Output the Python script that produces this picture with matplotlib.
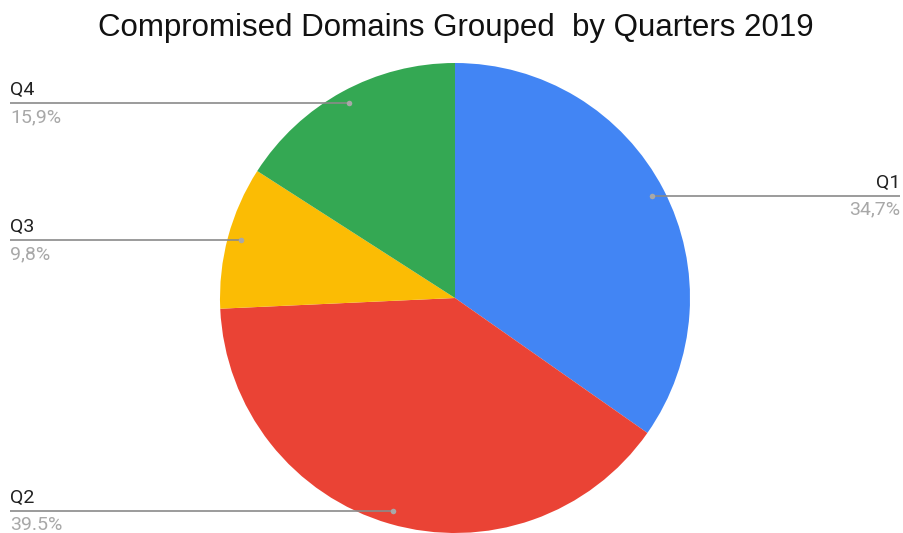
import numpy as np
import matplotlib
matplotlib.use("Agg")
import matplotlib.pyplot as plt

quarters = ["Q1", "Q2", "Q3", "Q4"]
shares = [34.7, 39.5, 9.8, 15.9]
share_labels = ["34,7%", "39.5%", "9,8%", "15,9%"]
colors = ["#4285F4", "#EA4335", "#FBBC04", "#34A853"]

W, H = 904, 533
fig = plt.figure(figsize=(W / 100, H / 100), dpi=100)
ax = fig.add_axes([0, 0, 1, 1])

cx, cy, R = 455, H - 298, 235
wedges, _ = ax.pie(shares, colors=colors, startangle=90, counterclock=False,
                   center=(cx, cy), radius=R,
                   wedgeprops=dict(linewidth=0))
ax.set_xlim(0, W)
ax.set_ylim(0, H)
ax.set_aspect("equal")
ax.axis("off")

fig.text(456 / W, 1 - 28 / H, "Compromised Domains Grouped  by Quarters 2019",
         ha="center", va="center", fontsize=22.5, family="Liberation Sans",
         color="#111111")

for w, name, lab in zip(wedges, quarters, share_labels):
    mid = np.deg2rad((w.theta1 + w.theta2) / 2)
    dx, dy = cx + 0.945 * R * np.cos(mid), cy + 0.945 * R * np.sin(mid)
    if dx > cx:
        x0, x1, xt, ha = dx, 900, 900, "right"
    else:
        x0, x1, xt, ha = 10, dx, 10, "left"
    ax.plot([x0, x1], [dy, dy], color="#8a8a8a", lw=1.2, solid_capstyle="butt",
            zorder=5)
    ax.plot([dx], [dy], "o", ms=4, color="#a8a8a8", mec="none", zorder=6)
    ax.text(xt, dy + 4, name, ha=ha, va="bottom", fontsize=14,
            family="Roboto", color="#222222")
    ax.text(xt, dy - 5, lab, ha=ha, va="top", fontsize=14,
            family="Roboto", color="#a8a8a8")

fig.savefig("out.png", dpi=100, facecolor="white")
